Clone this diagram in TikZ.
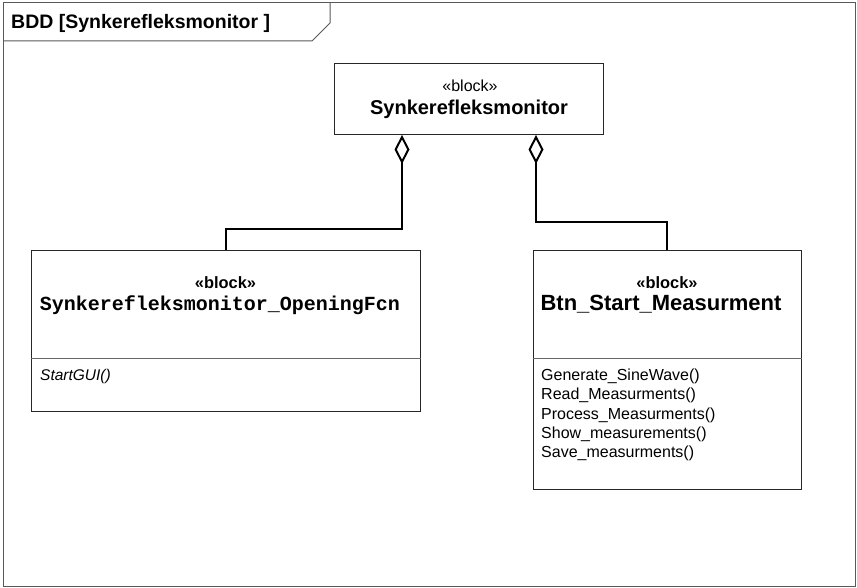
\documentclass[tikz,border=0pt]{standalone}
\usepackage{fontspec}
\setmainfont{Liberation Sans}
\newfontfamily\codefont{Liberation Mono}
\usetikzlibrary{arrows.meta,positioning}

\begin{document}
\begin{tikzpicture}[x=1pt, y=-1pt]
            \tikzstyle{frame} = [draw=black!65, line width=1pt]
            \tikzstyle{block} = [rectangle, draw=black!85, line width=1pt, inner sep=0pt, fill=white]
            \tikzstyle{stereo} = [anchor=base, inner sep=0pt, font=\fontsize{16}{18}\selectfont]
            \tikzstyle{ops} = [anchor=base west, inner sep=0pt, font=\fontsize{16}{19}\selectfont]
            \tikzstyle{aggregation} = [-{Diamond[open, length=29pt, width=15pt]}, line width=2pt, draw=black]
            \useasboundingbox (0, 0) rectangle (857, 588);
            % diagram frame
            \draw[frame] (3, 3) rectangle (855, 586);
            \draw[frame] (3, 41) -- (312, 41) -- (330, 23) -- (330, 3);
            \node[anchor=base west, inner sep=0pt, font=\fontsize{19.5}{22}\selectfont\bfseries] (title) at (11, 29) {BDD [Synkerefleksmonitor ]};
            % blocks
            \node[block, minimum width=269pt, minimum height=71pt] (main) at (468.5, 99.5) {};
            \node[block, minimum width=389pt, minimum height=160pt] (fcn) at (225.5, 331) {};
            \node[block, minimum width=268pt, minimum height=238pt] (btn) at (667, 370) {};
            \node[stereo] (main-st) at (470, 92) {«block»};
            \node[stereo, font=\fontsize{20}{22}\selectfont\bfseries] (main-name) at (469, 114.5) {Synkerefleksmonitor};
            \node[stereo, font=\fontsize{16.4}{18}\selectfont\bfseries] (fcn-st) at (225.5, 288) {«block»};
            \node[stereo, font=\fontsize{20}{22}\selectfont\codefont\bfseries] (fcn-name) at (220, 310) {Synkerefleksmonitor\_OpeningFcn};
            \node[stereo, font=\fontsize{16.4}{18}\selectfont\bfseries] (btn-st) at (667, 288) {«block»};
            \node[stereo, font=\fontsize{22}{24}\selectfont\bfseries] (btn-name) at (661, 310) {Btn\_Start\_Measurment};
            % compartments
            \draw[draw=black!60] (fcn.west |- 0, 358) -- (fcn.east |- 0, 358);
            \draw[draw=black!60] (btn.west |- 0, 358) -- (btn.east |- 0, 358);
            \node[ops, font=\fontsize{15.5}{19}\selectfont\itshape] (fcn-op1) at (40, 380) {StartGUI()};
            \foreach \op [count=\i] in {Generate\_SineWave(), Read\_Measurments(), Process\_Measurments(), Show\_measurements(), Save\_measurments()}
                \node[ops] (btn-op\i) at (541, 380.5 + 19.3*\i - 19.3) {\op};
            % aggregations
            \coordinate (agg-fcn) at (402, 135);
            \coordinate (agg-btn) at (536, 135);
            \draw[aggregation] (fcn.north) -- ++(0, -21) -| (agg-fcn);
            \draw[aggregation] (btn.north) -- ++(0, -28) -| (agg-btn);
        \end{tikzpicture}
\end{document}
